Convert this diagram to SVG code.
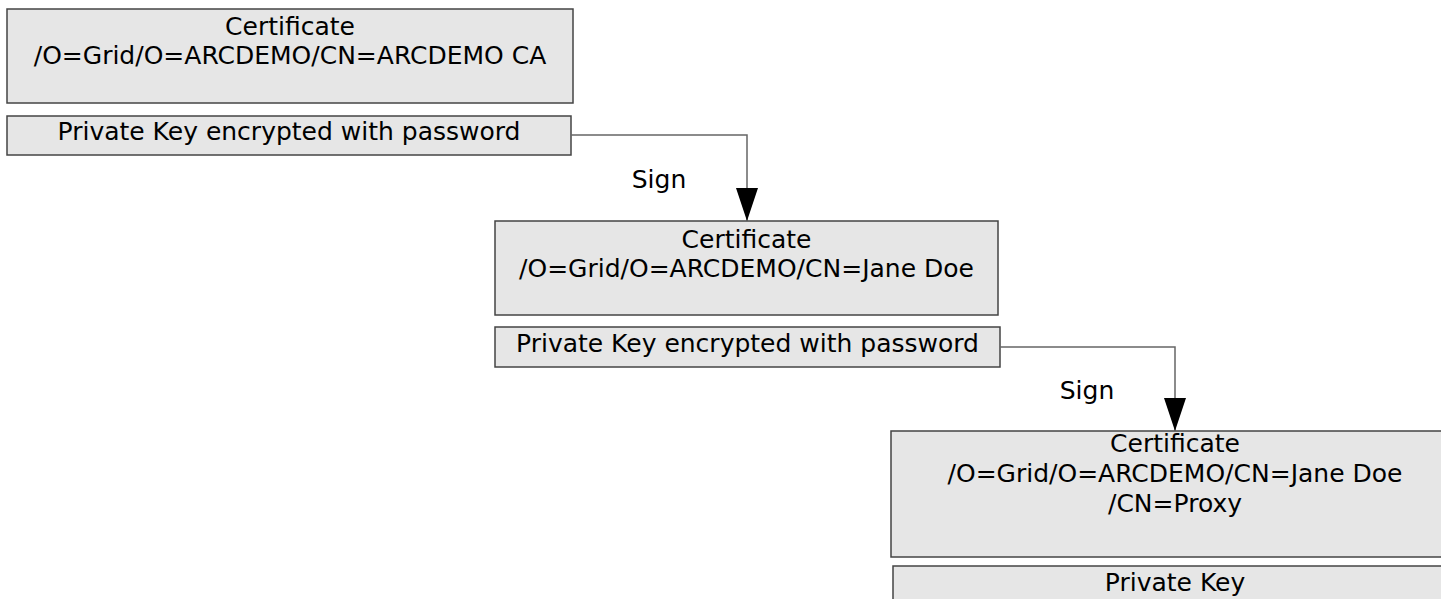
<svg xmlns="http://www.w3.org/2000/svg" width="1441" height="599" viewBox="0 0 1441 599">
  <defs>
    <style>
      .box { fill: #e6e6e6; stroke: #444; stroke-width: 1.5; }
      .lbl { font-family: "DejaVu Sans", "Liberation Sans", sans-serif; font-size: 25px; fill: #000; text-anchor: middle; }
      .edge { fill: none; stroke: #666; stroke-width: 1.5; }
    </style>
    <!-- filled triangular head, drawn pointing along +x so orient="auto" turns it with the line -->
    <marker id="arrow" viewBox="0 0 33 22" refX="33" refY="11" markerWidth="33" markerHeight="22" markerUnits="userSpaceOnUse" orient="auto">
      <path d="M0,0 L33,11 L0,22 Z" fill="#000"/>
    </marker>
  </defs>
  <rect width="1441" height="599" fill="#fff"/>

  <!-- CA certificate and its key -->
  <g id="ca-cert">
    <rect class="box" x="7" y="9" width="566" height="94"/>
    <text class="lbl" x="290" y="35">Certificate</text>
    <text class="lbl" x="290" y="64">/O=Grid/O=ARCDEMO/CN=ARCDEMO CA</text>
  </g>
  <g id="ca-key">
    <rect class="box" x="7" y="116" width="564" height="39"/>
    <text class="lbl" x="289" y="140">Private Key encrypted with password</text>
  </g>

  <!-- User certificate and its key -->
  <g id="user-cert">
    <rect class="box" x="495" y="221" width="503" height="94"/>
    <text class="lbl" x="746.5" y="248">Certificate</text>
    <text class="lbl" x="746.5" y="277">/O=Grid/O=ARCDEMO/CN=Jane Doe</text>
  </g>
  <g id="user-key">
    <rect class="box" x="495" y="327" width="505" height="40"/>
    <text class="lbl" x="747.5" y="352">Private Key encrypted with password</text>
  </g>

  <!-- Proxy certificate and its key -->
  <g id="proxy-cert">
    <rect class="box" x="891" y="431" width="568" height="126"/>
    <text class="lbl" x="1175" y="452">Certificate</text>
    <text class="lbl" x="1175" y="482">/O=Grid/O=ARCDEMO/CN=Jane Doe</text>
    <text class="lbl" x="1175" y="512">/CN=Proxy</text>
  </g>
  <g id="proxy-key">
    <rect class="box" x="893" y="566" width="566" height="40"/>
    <text class="lbl" x="1175" y="591">Private Key</text>
  </g>

  <!-- Signing connectors -->
  <g id="connectors">
    <path class="edge" d="M571,135 H747 V221" marker-end="url(#arrow)"/>
    <text class="lbl" x="659" y="188">Sign</text>
    <path class="edge" d="M1000,347 H1175 V431" marker-end="url(#arrow)"/>
    <text class="lbl" x="1087" y="399">Sign</text>
  </g>
</svg>
